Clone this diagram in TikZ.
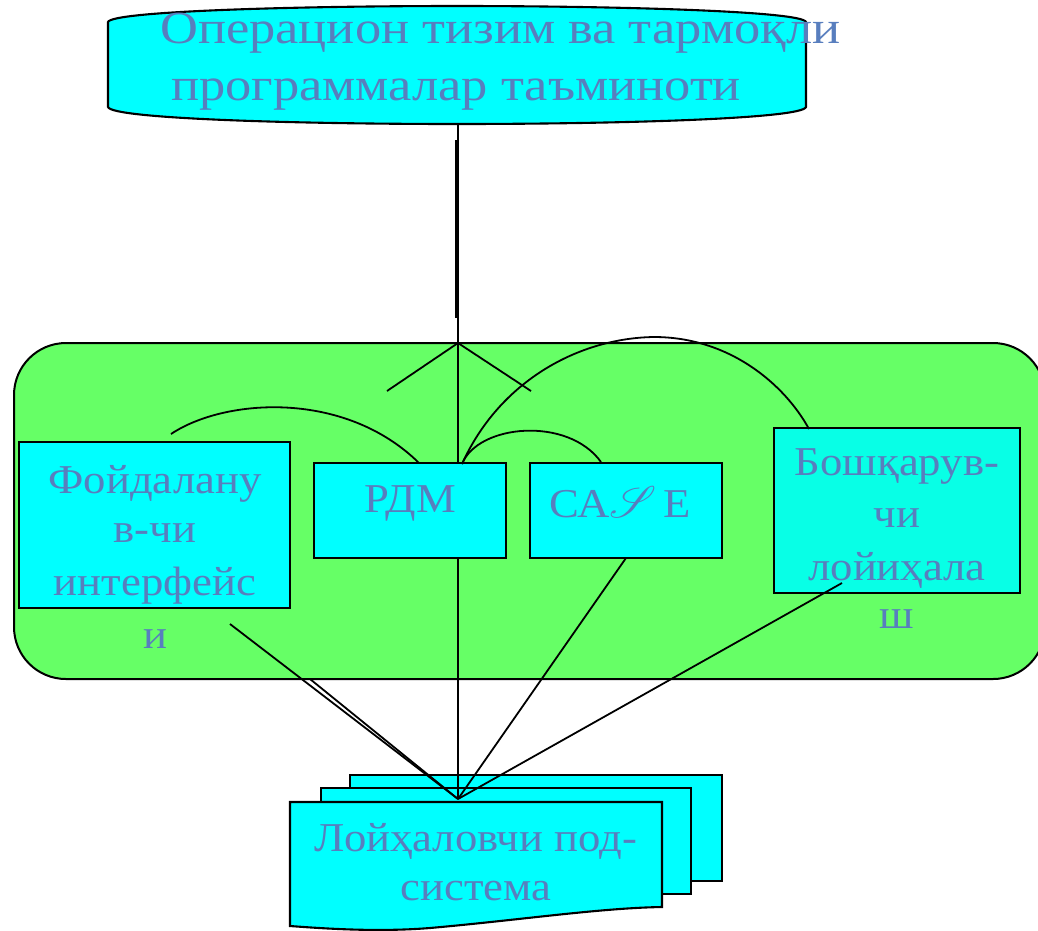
\documentclass[tikz,border=0pt]{standalone}
\usepackage{fontspec}
\setmainfont{Liberation Serif}[FakeStretch=1.09]
\newfontfamily\topfont{Liberation Serif}[FakeStretch=1.14]
\usepackage{mathrsfs}
\definecolor{txtc}{RGB}{88,126,190}
\definecolor{cyanf}{RGB}{0,255,255}
\definecolor{cyanb}{RGB}{8,255,230}
\definecolor{greenf}{RGB}{102,255,102}
\tikzset{
  conn/.style={draw=black, line width=1.8pt},
  boxs/.style={draw=black, line width=2.1pt, fill=cyanf, inner sep=0pt, outer sep=0pt},
  lbl/.style={text=txtc, inner sep=0pt, font=\fontsize{41}{41}\selectfont},
  biglbl/.style={text=txtc, inner sep=0pt, font=\topfont\fontsize{46}{46}\selectfont},
}
\begin{document}
\begin{tikzpicture}[x=1pt,y=-1pt]
\useasboundingbox (0,0) rectangle (1038,930);
\clip (0,0) rectangle (1038,930);
% green region
\draw[line width=2pt, fill=greenf, rounded corners=52pt] (14,343) rectangle (1045,679);
% top shape
\draw[line width=2.1pt, fill=cyanf]
  (108,22) -- (108,107)
  .. controls (112,119) and (300,124) .. (457,124)
  .. controls (614,124) and (802,119) .. (806,107)
  -- (806,22)
  .. controls (802,11) and (614,6) .. (457,6)
  .. controls (300,6) and (112,11) .. (108,22) -- cycle;
\node[biglbl, anchor=base west] (tt1) at (160,43) {Операцион тизим ва тармоқли};
\node[biglbl, anchor=base west] (tt2) at (171,100) {программалар таъминоти};
% coordinates
\coordinate (topb) at (458,124);
\coordinate (j1) at (458,343);
\coordinate (cfl) at (387,391);
\coordinate (cfr) at (531,391);
\coordinate (d1) at (456.2,140);
\coordinate (d2) at (456.2,318);
\coordinate (d3) at (456.2,224);
\coordinate (d4) at (456.2,246);
\coordinate (jd) at (458,799);
% vertical lines
\draw[conn] (topb) -- (j1);
\draw[conn, line width=1.8pt] (d1) -- (d2);
\draw[conn, line width=3pt] (d3) -- (d4);
\draw[conn] (cfl) -- (j1) -- (cfr);
% boxes
\node[boxs, minimum width=271pt, minimum height=166pt] (fb) at (154.5,525) {};
\node[boxs, minimum width=192pt, minimum height=95pt] (rdm) at (410,510.5) {};
\node[boxs, minimum width=192pt, minimum height=95pt] (cs) at (626,510.5) {};
\node[boxs, fill=cyanb, minimum width=246pt, minimum height=165pt] (bb) at (897,510.5) {};
\draw[conn] (j1) -- (j1 |- rdm.north);
% arcs
\coordinate (a1s) at (171,434);
\coordinate (a1e) at (419,463);
\coordinate (a2s) at (462,464);
\coordinate (a2e) at (601,462);
\coordinate (a3e) at (809,429);
\draw[conn] (a1s) .. controls (225,398) and (345,390) .. (a1e);
\draw[conn] (a2s) .. controls (478,424) and (568,416) .. (a2e);
\draw[conn] (a2s) .. controls (500,380) and (580,338) .. (654,337)
  .. controls (730,337) and (785,385) .. (a3e);
% texts
\node[lbl, anchor=base] (f1) at (155,493) {Фойдалану};
\node[lbl, anchor=base] (f2) at (155,542) {в-чи};
\node[lbl, anchor=base] (f3) at (155,595) {интерфейс};
\node[lbl, anchor=base] (f4) at (155,648) {и};
\node[lbl, anchor=base] (r1) at (410,512) {РДМ};
\node[lbl, anchor=base] (c1) at (620,517) {СА\resizebox{!}{31pt}{$\mathscr{S}$}\,Е};
\node[lbl, anchor=base] (b1) at (897,475) {Бошқарув-};
\node[lbl, anchor=base] (b2) at (897,527) {чи};
\node[lbl, anchor=base] (b3) at (897,580) {лойиҳала};
\node[lbl, anchor=base] (b4) at (897,628) {ш};
% documents
\draw[line width=2.1pt, fill=cyanf] (350,775) rectangle (722,881);
\draw[line width=2.1pt, fill=cyanf] (321,788) rectangle (691,894);
\draw[line width=2.1pt, fill=cyanf] (290,802) -- (662,802) -- (662,907)
  .. controls (600,908) and (520,920) .. (430,928)
  .. controls (380,932) and (330,929) .. (290,926) -- cycle;
\node[lbl, anchor=base] (d1t) at (476,851) {Лойҳаловчи под-};
\node[lbl, anchor=base] (d2t) at (476,900) {система};
% lines to documents
\coordinate (l1) at (230,624);
\coordinate (l2) at (310,679);
\coordinate (l5) at (842,583);
\draw[conn] (l1) -- (jd);
\draw[conn] (l2) -- (jd);
\draw[conn] (j1 |- rdm.south) -- (jd);
\draw[conn] (cs.south) -- (jd);
\draw[conn] (l5) -- (jd);
\end{tikzpicture}
\end{document}
